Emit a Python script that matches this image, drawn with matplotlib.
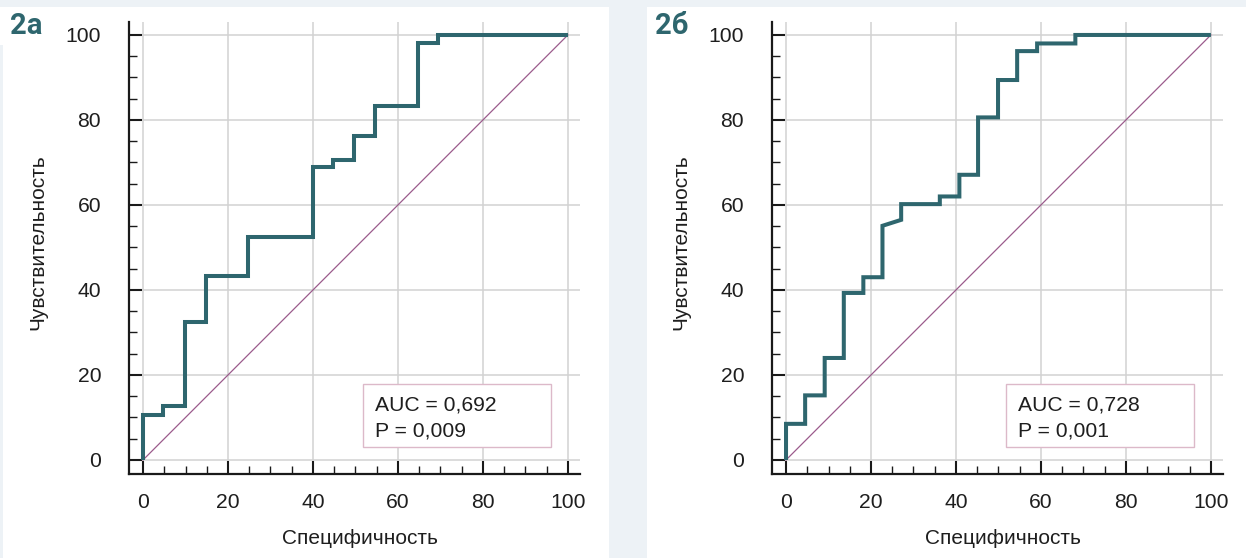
import matplotlib
matplotlib.use("Agg")
import matplotlib.pyplot as plt
from matplotlib.patches import Rectangle
from matplotlib.ticker import MultipleLocator

plt.rcParams['font.family'] = ['Liberation Sans', 'DejaVu Sans']

# ---------------- data ----------------
panel_labels = ["2а", "2б"]
x_label = "Специфичность"
y_label = "Чувствительность"
ticks = [0, 20, 40, 60, 80, 100]

# panel 2a: ROC curve vertices
spec_a = [0, 0, 4.7, 4.7, 9.8, 9.8, 14.9, 14.9, 24.7, 24.7, 39.9, 39.9,
          44.6, 44.6, 49.7, 49.7, 54.7, 54.7, 64.7, 64.7, 69.5, 69.5, 100]
sens_a = [0, 10.6, 10.6, 12.8, 12.8, 32.5, 32.5, 43.3, 43.3, 52.4, 52.4, 69.0,
          69.0, 70.5, 70.5, 76.2, 76.2, 83.2, 83.2, 98.0, 98.0, 100, 100]
auc_a = "AUC = 0,692"
p_a = "P = 0,009"

# panel 2b: ROC curve vertices
spec_b = [0, 0, 4.5, 4.5, 9.1, 9.1, 13.6, 13.6, 18.2, 18.2, 22.7, 22.7,
          27.1, 27.1, 36.2, 36.2, 40.8, 40.8, 45.2, 45.2, 49.9, 49.9,
          54.4, 54.4, 59.1, 59.1, 68.1, 68.1, 100]
sens_b = [0, 8.5, 8.5, 15.2, 15.2, 24.0, 24.0, 39.3, 39.3, 43.0, 43.0, 55.1,
          56.5, 60.2, 60.2, 62.0, 62.0, 67.1, 67.1, 80.6, 80.6, 89.4,
          89.4, 96.2, 96.2, 98.0, 98.0, 100, 100]
auc_b = "AUC = 0,728"
p_b = "P = 0,001"

diag = [0, 100]

# ---------------- style ----------------
W, H = 1246, 558
BG = "#edf2f6"
TEAL = "#2e666e"
DIAG = "#9b5b8c"
GRID = "#d2d2d2"
BOXEDGE = "#dcb9c9"
INK = "#1e1e1e"
FS = 15.2
LFS = 15

fig = plt.figure(figsize=(W / 100, H / 100), dpi=100)
fig.patch.set_facecolor(BG)


def px_rect(x0, y0, x1, y1, color="white"):
    r = Rectangle((x0 / W, 1 - y1 / H), (x1 - x0) / W, (y1 - y0) / H,
                  transform=fig.transFigure, facecolor=color, edgecolor="none",
                  zorder=-10)
    fig.add_artist(r)


px_rect(3, 7, 609, H)
px_rect(0, 7, 3, 45)
px_rect(647, 7, W, H)

panels = [
    (129, spec_a, sens_a, auc_a, p_a, panel_labels[0], 10),
    (772, spec_b, sens_b, auc_b, p_b, panel_labels[1], 655),
]

for left_px, xs, ys, auc, pv, lab, lab_x in panels:
    ax = fig.add_axes([left_px / W, (H - 474) / H, 451 / W, 452 / H])
    ax.set_facecolor("none")
    ax.set_xlim(-3.3, 102.85)
    ax.set_ylim(-3.3, 103.05)
    for s in ("top", "right"):
        ax.spines[s].set_visible(False)
    for s in ("left", "bottom"):
        ax.spines[s].set_linewidth(1.6)
        ax.spines[s].set_color("#1a1a1a")

    ax.set_xticks(ticks)
    ax.set_yticks(ticks)
    ax.xaxis.set_minor_locator(MultipleLocator(5))
    ax.yaxis.set_minor_locator(MultipleLocator(5))
    ax.tick_params(which="major", direction="in", length=9.5, width=1.5,
                   color="#1a1a1a", labelsize=FS, labelcolor=INK)
    ax.tick_params(which="minor", direction="in", length=5.5, width=1.0,
                   color="#1a1a1a")
    ax.tick_params(axis="y", which="major", pad=20)
    ax.tick_params(axis="x", which="major", pad=14)
    ax.grid(True, which="major", color=GRID, linewidth=1.1, zorder=0)
    ax.set_axisbelow(True)

    ax.plot(diag, diag, color=DIAG, linewidth=0.9, zorder=2)
    ax.plot(xs, ys, color=TEAL, linewidth=2.9, solid_joinstyle="miter",
            solid_capstyle="butt", zorder=3)

    box = Rectangle((51.7, 3.1), 44.4, 14.8, facecolor="white",
                    edgecolor=BOXEDGE, linewidth=1.0, zorder=4)
    ax.add_patch(box)
    ax.text(54.6, 12.9, auc, fontsize=FS, color=INK, ha="left", va="center",
            zorder=5)
    ax.text(54.6, 6.8, pv, fontsize=FS, color=INK, ha="left", va="center",
            zorder=5)

    ax.set_xlabel(x_label, fontsize=LFS, color=INK, va="center")
    ax.xaxis.set_label_coords(0.512, -0.1416)
    ax.set_ylabel(y_label, fontsize=LFS, color=INK, va="center")
    ax.yaxis.set_label_coords(-0.202, 0.513)

    fig.text(lab_x / W, 1 - 26 / H, lab, fontsize=21, fontweight="bold",
             color=TEAL, family=["Roboto", "DejaVu Sans"], ha="left",
             va="center")

fig.savefig("out.png", dpi=100, facecolor=fig.get_facecolor())
